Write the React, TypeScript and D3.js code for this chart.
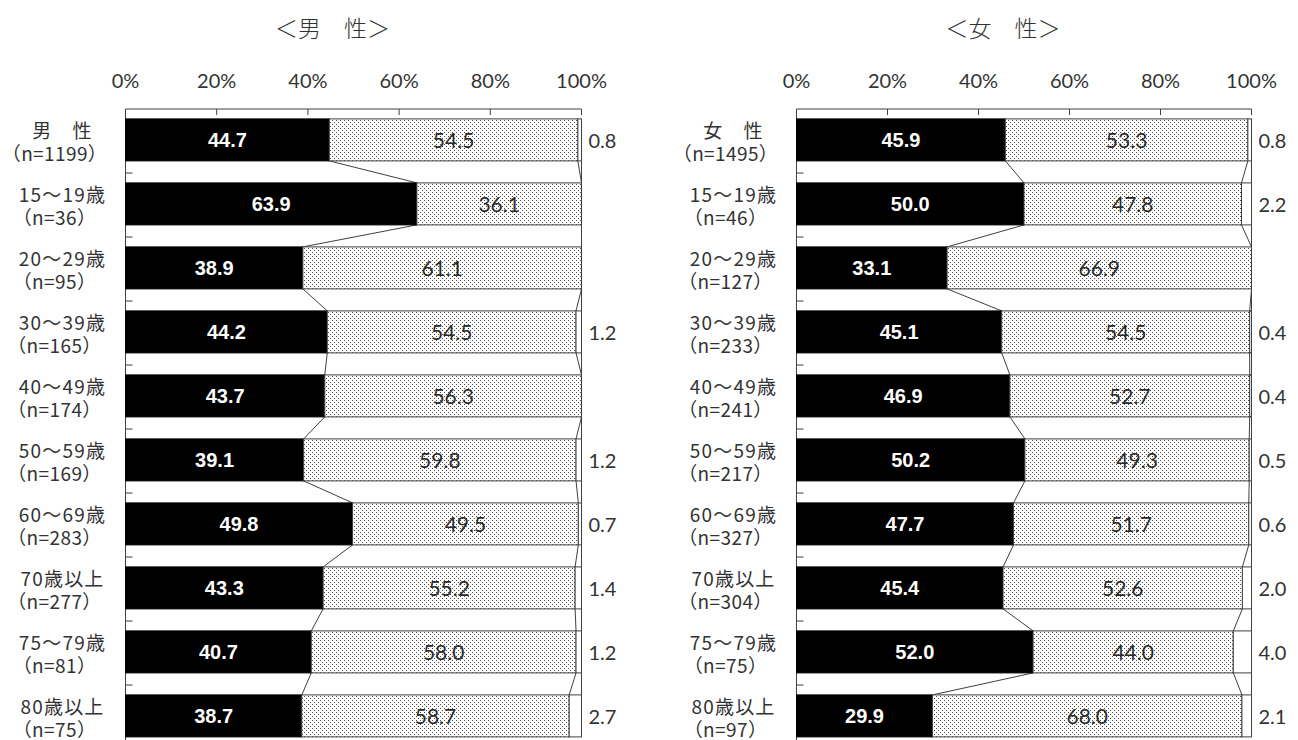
import React from "react";
import * as d3 from "d3";

const maleCats = ["男　性", "15～19歳", "20～29歳", "30～39歳", "40～49歳", "50～59歳", "60～69歳", "70歳以上", "75～79歳", "80歳以上"];
const maleN = [1199, 36, 95, 165, 174, 169, 283, 277, 81, 75];
const maleA = [44.7, 63.9, 38.9, 44.2, 43.7, 39.1, 49.8, 43.3, 40.7, 38.7];
const maleB = [54.5, 36.1, 61.1, 54.5, 56.3, 59.8, 49.5, 55.2, 58.0, 58.7];
const maleC = [0.8, 0, 0, 1.2, 0, 1.2, 0.7, 1.4, 1.2, 2.7];

const femaleCats = ["女　性", "15～19歳", "20～29歳", "30～39歳", "40～49歳", "50～59歳", "60～69歳", "70歳以上", "75～79歳", "80歳以上"];
const femaleN = [1495, 46, 127, 233, 241, 217, 327, 304, 75, 97];
const femaleA = [45.9, 50.0, 33.1, 45.1, 46.9, 50.2, 47.7, 45.4, 52.0, 29.9];
const femaleB = [53.3, 47.8, 66.9, 54.5, 52.7, 49.3, 51.7, 52.6, 44.0, 68.0];
const femaleC = [0.8, 2.2, 0, 0.4, 0.4, 0.5, 0.6, 2.0, 4.0, 2.1];

const tickValues = [0, 20, 40, 60, 80, 100];
const W = 1298;
const H = 740;
const TEXT = "#333333";
const LINE = "#404040";
const JP = "'Noto Sans CJK JP', sans-serif";
const NUM = "Lato, 'Noto Sans', sans-serif";

type PanelProps = {
  title: string;
  cats: string[];
  ns: number[];
  a: number[];
  b: number[];
  c: number[];
  x0: number;
  x1: number;
};

function Panel({ title, cats, ns, a, b, c, x0, x1 }: PanelProps) {
  const top = 109;
  const step = 64;
  const x = d3.scaleLinear().domain([0, 100]).range([x0, x1]);
  const y = d3
    .scaleBand<string>()
    .domain(cats)
    .range([top, top + step * cats.length])
    .paddingInner(22 / 64)
    .paddingOuter(11 / 64)
    .align(0.45);
  const bw = y.bandwidth();
  const rows = cats.map((cat, i) => {
    const s = a[i] + b[i] + c[i];
    const p1 = (a[i] / s) * 100;
    const p2 = ((a[i] + b[i]) / s) * 100;
    return { cat, i, p1, p2, y0: y(cat) as number };
  });
  const mid = (x0 + x1) / 2;
  return (
    <g>
      <text x={mid - 21} y={27} textAnchor="middle" dominantBaseline="central" fontFamily={JP} fontSize={23} fill={TEXT} fontWeight={300}>
        {title}
      </text>
      {tickValues.map((t) => (
        <g key={t}>
          <text x={x(t)} y={80} textAnchor="middle" dominantBaseline="central" fontFamily={NUM} fontSize={20} fill={TEXT}>
            {t}%
          </text>
          <line x1={x(t)} x2={x(t)} y1={top} y2={top + 6} stroke={LINE} strokeWidth={1} />
        </g>
      ))}
      <line x1={x0} x2={x1} y1={top} y2={top} stroke={LINE} strokeWidth={1} />
      <line x1={x0} x2={x0} y1={top} y2={H + 20} stroke={LINE} strokeWidth={1} />
      {cats.map((_, i) => (
        <line key={i} x1={x0} x2={x0 + 7} y1={top + step * (i + 1)} y2={top + step * (i + 1)} stroke={LINE} strokeWidth={1} />
      ))}
      {rows.slice(0, -1).map((r, k) => {
        const n = rows[k + 1];
        const yb = r.y0 + bw;
        const yt = n.y0;
        return (
          <g key={"sl" + k} stroke={LINE} strokeWidth={1}>
            <line x1={x(r.p1)} y1={yb} x2={x(n.p1)} y2={yt} />
            <line x1={x(r.p2)} y1={yb} x2={x(n.p2)} y2={yt} />
            <line x1={x(100)} y1={yb} x2={x(100)} y2={yt} />
          </g>
        );
      })}
      {rows.map((r) => (
        <g key={r.cat}>
          <rect x={x(0)} y={r.y0} width={x(r.p1) - x(0)} height={bw} fill="#000" stroke="#000" strokeWidth={1} />
          <rect x={x(r.p1)} y={r.y0} width={x(r.p2) - x(r.p1)} height={bw} fill="url(#dots)" stroke={LINE} strokeWidth={1} />
          <rect x={x(r.p2)} y={r.y0} width={x(100) - x(r.p2)} height={bw} fill="#fff" stroke={LINE} strokeWidth={1} />
          <text x={(x(0) + x(r.p1)) / 2} y={r.y0 + bw / 2} textAnchor="middle" dominantBaseline="central" fontFamily="'Liberation Sans', Arial, sans-serif" fontWeight="bold" fontSize={20} fill="#fff">
            {a[r.i].toFixed(1)}
          </text>
          <text x={(x(r.p1) + x(r.p2)) / 2} y={r.y0 + bw / 2} textAnchor="middle" dominantBaseline="central" fontFamily={NUM} fontSize={21} fill="#2a2a2a">
            {b[r.i].toFixed(1)}
          </text>
          {c[r.i] > 0 && (
            <text x={x(100) + 7} y={r.y0 + bw / 2} textAnchor="start" dominantBaseline="central" fontFamily={NUM} fontSize={20} fill={TEXT}>
              {c[r.i].toFixed(1)}
            </text>
          )}
          <text textAnchor="middle" dominantBaseline="central" fontFamily={JP} fontSize={19} fill={TEXT}>
            <tspan x={x0 - 63} y={r.y0 + bw / 2 - 11} letterSpacing={1.2}>
              {r.cat}
            </tspan>
            <tspan x={x0 - 71} y={r.y0 + bw / 2 + 12} letterSpacing={0.4}>
              {`（n=${ns[r.i]}）`}
            </tspan>
          </text>
        </g>
      ))}
    </g>
  );
}

export default function App() {
  return (
    <svg width={W} height={H} style={{ position: "absolute", left: 0, top: 0, display: "block", background: "#fff" }}>
      <defs>
        <pattern id="dots" width={4} height={4} patternUnits="userSpaceOnUse">
          <rect width={4} height={4} fill="#fff" />
          <rect x={0} y={0} width={1} height={1} fill="#4a4a4a" />
          <rect x={2} y={2} width={1} height={1} fill="#4a4a4a" />
        </pattern>
      </defs>
      <rect width={W} height={H} fill="#fff" />
      <Panel title="＜男　性＞" cats={maleCats} ns={maleN} a={maleA} b={maleB} c={maleC} x0={125.5} x1={581.5} />
      <Panel title="＜女　性＞" cats={femaleCats} ns={femaleN} a={femaleA} b={femaleB} c={femaleC} x0={796.5} x1={1251.5} />
    </svg>
  );
}
